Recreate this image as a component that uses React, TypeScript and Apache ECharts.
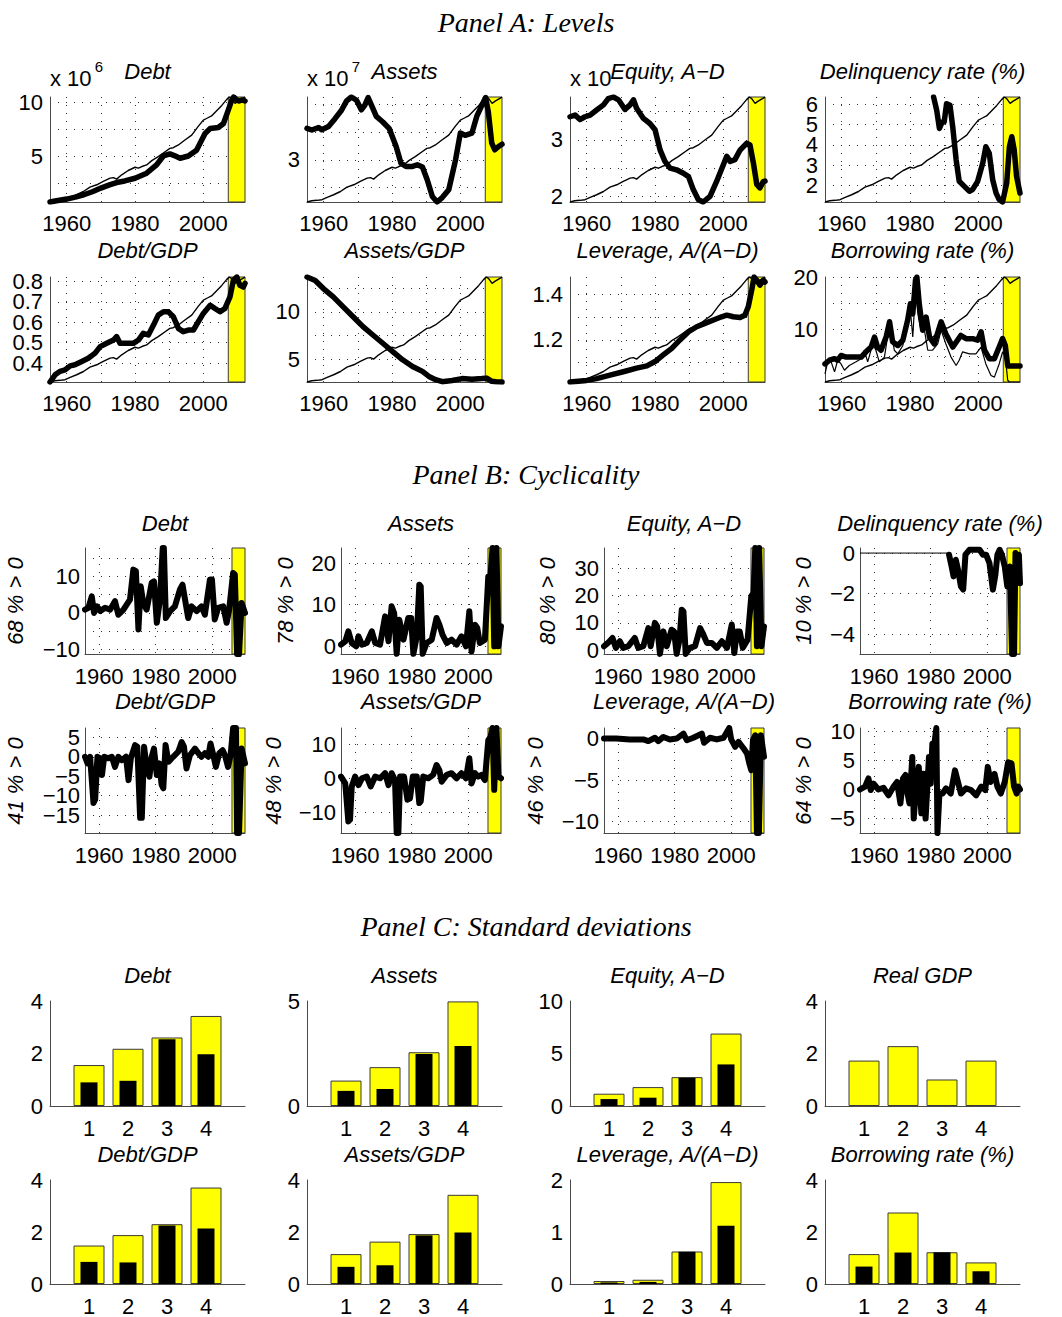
import React, { useEffect, useRef } from "react";
import * as echarts from "echarts";

type Pt = [number, number];

// ---------------- Panel A: levels, [year, value] ----------------
// real GDP, rescaled to 0..1 over the sample (overlaid on every level plot)
const gdpIndex: Pt[] = [
  [1955.1, 0.0], [1956.5, 0.012], [1958, 0.016], [1959.5, 0.022], [1961, 0.044], [1962.9, 0.069],
  [1964.9, 0.1], [1966.8, 0.142], [1968.8, 0.164], [1970.7, 0.196], [1972.7, 0.227], [1973.7, 0.232],
  [1974.6, 0.218], [1976.1, 0.259], [1978, 0.3], [1980, 0.331], [1981, 0.322], [1982, 0.338],
  [1983.4, 0.353], [1984.9, 0.394], [1986.8, 0.432], [1988.8, 0.479], [1990.2, 0.511], [1991.2, 0.517],
  [1992.7, 0.543], [1994.6, 0.59], [1996.6, 0.637], [1998.5, 0.72], [2000, 0.78], [2001.2, 0.8],
  [2002.4, 0.82], [2003.9, 0.87], [2005.4, 0.92], [2006.8, 0.975], [2007.6, 1.0], [2008.3, 0.985],
  [2009.3, 0.94], [2010.2, 0.96], [2011.2, 0.98], [2012.2, 0.998],
];

const debtLevel: Pt[] = [
  [1955.1, 0.8], [1957, 0.92], [1960, 1.07], [1962.5, 1.25], [1965, 1.47], [1967.5, 1.75], [1970, 2.09],
  [1972.5, 2.38], [1974.6, 2.6], [1977, 2.75], [1980, 3.0], [1983.4, 3.47], [1986.3, 4.23], [1988.3, 5.06],
  [1990.2, 5.25], [1991.5, 5.1], [1993.2, 4.85], [1995.6, 5.06], [1998, 5.6], [2000.5, 7.15], [2002, 7.6],
  [2004.4, 7.7], [2005.9, 8.07], [2007.3, 9.3], [2008.3, 10.2], [2008.9, 10.52], [2009.6, 10.3],
  [2010.5, 10.15], [2011.4, 10.25], [2012.2, 10.15],
];

const assetsLevel: Pt[] = [
  [1955.1, 3.283], [1956.5, 3.268], [1958.5, 3.29], [1959.4, 3.27], [1961.4, 3.3], [1963.3, 3.37],
  [1965.2, 3.446], [1966.7, 3.53], [1968.1, 3.565], [1969.6, 3.536], [1971, 3.45], [1972, 3.49],
  [1973, 3.56], [1974, 3.49], [1975.4, 3.39], [1977.3, 3.34], [1979.2, 3.28], [1981.2, 3.12],
  [1982.6, 2.97], [1984.1, 2.94], [1986, 2.94], [1987.4, 2.955], [1988.9, 2.935], [1990.3, 2.82],
  [1991.8, 2.67], [1993.2, 2.62], [1994.7, 2.66], [1996.6, 2.73], [1998.6, 3.0], [2000, 3.24],
  [2001.4, 3.22], [2003.4, 3.24], [2004.8, 3.39], [2006.3, 3.49], [2007.4, 3.56], [2008.2, 3.43],
  [2009.2, 3.15], [2010.1, 3.09], [2011.2, 3.12], [2012.2, 3.14],
];

const equityLevel: Pt[] = [
  [1955.1, 3.41], [1956.6, 3.44], [1958, 3.36], [1959.5, 3.41], [1961, 3.44], [1962.9, 3.53],
  [1964.9, 3.62], [1966.3, 3.73], [1967.8, 3.76], [1969.3, 3.71], [1971.2, 3.54], [1972.7, 3.62],
  [1973.7, 3.71], [1974.6, 3.56], [1976.6, 3.38], [1978.5, 3.29], [1980, 3.18], [1981.5, 2.82],
  [1982.9, 2.62], [1984.4, 2.5], [1986.3, 2.47], [1988.3, 2.41], [1989.8, 2.35], [1991.2, 2.12],
  [1992.7, 1.94], [1994.1, 1.9], [1996.1, 2.0], [1998, 2.26], [2000, 2.56], [2001, 2.71], [2002, 2.62],
  [2003.4, 2.65], [2004.9, 2.82], [2006.8, 2.94], [2007.8, 2.91], [2008.8, 2.59], [2009.8, 2.21],
  [2010.7, 2.15], [2011.7, 2.26], [2012.2, 2.27],
];

const delinquencyLevel: Pt[] = [
  [1986.9, 6.36], [1987.8, 5.71], [1988.6, 4.81], [1989.4, 5.13], [1990, 5.13], [1990.7, 6.03],
  [1991.7, 5.95], [1992.5, 4.89], [1993.5, 3.26], [1994.4, 2.2], [1995.9, 1.95], [1997.4, 1.71],
  [1998.3, 1.79], [1999.8, 2.2], [2001.3, 3.1], [2002.2, 3.91], [2003.2, 3.58], [2004.2, 2.28],
  [2005.2, 1.62], [2006.1, 1.3], [2007.1, 1.18], [2008.3, 2.11], [2009.1, 3.91], [2009.8, 4.4],
  [2010.5, 3.75], [2011.2, 2.44], [2012.2, 1.62],
];

const debtGdpLevel: Pt[] = [
  [1955.1, 0.308], [1956.6, 0.343], [1958, 0.36], [1959.5, 0.367], [1961, 0.387], [1962.4, 0.392],
  [1964.4, 0.408], [1966.3, 0.424], [1968.3, 0.449], [1969.8, 0.481], [1971.7, 0.497], [1973.7, 0.513],
  [1974.6, 0.53], [1975.6, 0.497], [1977.6, 0.497], [1979.5, 0.497], [1981, 0.513], [1982.4, 0.546],
  [1983.9, 0.538], [1985.4, 0.586], [1986.8, 0.635], [1988.3, 0.651], [1989.8, 0.651], [1991.2, 0.627],
  [1992.7, 0.57], [1994.1, 0.554], [1995.6, 0.562], [1997.1, 0.562], [1998.5, 0.602], [2000, 0.643],
  [2002, 0.683], [2003.4, 0.667], [2004.9, 0.651], [2006.3, 0.667], [2007.8, 0.724], [2008.8, 0.805],
  [2009.8, 0.821], [2010.7, 0.78], [2011.7, 0.772], [2012.2, 0.79],
];

const assetsGdpLevel: Pt[] = [
  [1955.1, 13.67], [1957.5, 13.3], [1959.9, 12.45], [1962.8, 11.57], [1965.7, 10.52], [1968.6, 9.48],
  [1971.5, 8.43], [1974.4, 7.55], [1977.3, 6.68], [1980.2, 5.8], [1983.1, 4.93], [1986, 4.23],
  [1988.9, 3.71], [1990.8, 3.18], [1992.8, 2.83], [1994.7, 2.62], [1997.6, 2.75], [2000.5, 2.95],
  [2003.4, 2.88], [2006.3, 2.95], [2007.7, 3.0], [2009.2, 2.66], [2010.5, 2.62], [2012.2, 2.59],
];

const leverageLevel: Pt[] = [
  [1955.1, 1.015], [1960, 1.022], [1962.9, 1.03], [1966.8, 1.045], [1970.7, 1.06], [1974.6, 1.076],
  [1977.6, 1.086], [1980, 1.105], [1982.4, 1.134], [1984.9, 1.163], [1987.3, 1.2], [1989.8, 1.236],
  [1992.2, 1.258], [1994.6, 1.273], [1997.1, 1.288], [1999.5, 1.302], [2001, 1.309], [2002.9, 1.302],
  [2004.9, 1.299], [2006.3, 1.309], [2007.3, 1.346], [2008.3, 1.419], [2009, 1.477], [2009.8, 1.463],
  [2010.7, 1.441], [2011.7, 1.463], [2012.2, 1.455],
];

const borrowRateLevel: Pt[] = [
  [1955.1, 3.5], [1956.4, 4.2], [1957.9, 4.5], [1958.8, 4.2], [1959.8, 5.1], [1961.3, 4.8], [1963.2, 4.8],
  [1965.7, 4.8], [1967.1, 5.8], [1968.6, 6.7], [1969.6, 8.6], [1970.5, 6.7], [1971.5, 6.1], [1973, 8.6],
  [1974, 11.5], [1974.9, 7.7], [1976.4, 7.0], [1977.9, 8.0], [1979.3, 11.8], [1980.1, 14.9], [1980.8, 13.0],
  [1981.6, 19.4], [1982, 20.0], [1982.7, 14.9], [1983.7, 9.9], [1984.7, 12.4], [1985.7, 8.6], [1987.1, 7.3],
  [1989.1, 11.5], [1990.5, 9.2], [1992.5, 6.7], [1993.9, 8.0], [1994.9, 8.9], [1996.4, 8.3], [1998.3, 8.3],
  [1999.8, 8.0], [2000.8, 9.6], [2001.8, 6.1], [2003.2, 4.5], [2004.7, 4.5], [2006.1, 6.7], [2007.1, 8.3],
  [2007.9, 7.0], [2008.6, 3.1], [2009.6, 3.1], [2012.2, 3.1],
];

const shortRateLevel: Pt[] = [
  [1955.1, 1.6], [1955.9, 3.9], [1956.9, 3.9], [1957.9, 2.0], [1958.8, 4.2], [1959.8, 3.5], [1960.8, 2.3],
  [1962.2, 3.2], [1964.2, 3.9], [1965.7, 4.5], [1966.6, 6.1], [1967.6, 3.9], [1969.1, 7.3], [1970, 6.1],
  [1971, 3.9], [1972.5, 4.8], [1974, 11.1], [1975.4, 6.1], [1976.4, 5.4], [1977.9, 7.0], [1979.3, 11.5],
  [1980.1, 13.7], [1980.8, 8.6], [1981.6, 17.5], [1982.3, 13.0], [1983, 10.5], [1984.3, 9.6], [1985.2, 6.1],
  [1986.6, 6.1], [1988.1, 7.3], [1989.1, 9.9], [1990.5, 7.3], [1992, 4.8], [1993.5, 3.2], [1994.4, 4.2],
  [1995.4, 5.8], [1997.4, 5.4], [1999.3, 5.4], [2000.8, 6.7], [2002.2, 3.5], [2003.7, 1.3], [2004.7, 1.0],
  [2006.1, 3.5], [2007.1, 5.8], [2007.9, 4.8], [2008.6, 0.4], [2009.1, 0.07], [2012.2, 0.07],
];

// ---------------- Panel B: cyclical components, [year, value] ----------------
const debtCycle: Pt[] = [
  [1955, 0.9], [1956.2, 1.4], [1957.4, 4.5], [1958.2, 0], [1959.2, 1.8], [1960.4, 0.5], [1962.1, 1.4],
  [1963.9, 0.9], [1965.6, 3.2], [1966.8, -0.5], [1968.6, 0.9], [1970.9, 3.6], [1972.1, 11.8], [1973, 11.4],
  [1973.9, -4.5], [1974.7, 7.3], [1975.6, 2.7], [1976.8, 0.9], [1978.6, 8.2], [1979.4, 8.6], [1980.4, -2.7],
  [1981.5, 3.6], [1982.5, 17.7], [1982.9, 17.7], [1983.6, -1.4], [1985.1, 0.5], [1986.8, 1.8], [1988.6, 6.4],
  [1989.5, 7.7], [1990.4, 3.6], [1991.5, -1.4], [1992.7, 1.8], [1994.5, 0.5], [1996.2, 1.8], [1997.4, -0.5],
  [1999.2, 9.1], [1999.9, 9.1], [2000.9, -1.8], [2002.1, 1.4], [2003.9, 1.8], [2005.1, -2.7], [2006, 0.9],
  [2007.4, 10.9], [2008, 10.5], [2008.8, -11.2], [2009.5, -11.2], [2010.4, 2.7], [2011.6, 0],
];

const assetsCycle: Pt[] = [
  [1955, 0.4], [1956.5, 1.2], [1957.6, 3.6], [1958.8, 0.8], [1960.4, 0], [1961.2, 2.4], [1962.4, 0.4],
  [1964.1, 0.8], [1965.9, 3.6], [1967.1, 0.8], [1968.8, 0.4], [1970.6, 7.2], [1971.8, 1.2], [1972.9, 9.6],
  [1973.8, 8.0], [1974.7, -1.8], [1975.6, 6.4], [1977.1, 1.6], [1978.8, 6.8], [1979.8, 6.8], [1980.6, -1.8],
  [1981.8, 2.4], [1982.7, 14.8], [1983.2, 14.4], [1983.9, -1.8], [1985.3, 0.8], [1987.1, 1.6], [1988.8, 6.8],
  [1989.8, 5.2], [1990.9, 2.8], [1992.4, 0.8], [1994.1, 1.6], [1995.9, 0.4], [1997.6, 2.4], [1999.2, 0],
  [2000.4, 8.4], [2001.2, -1.2], [2002.4, 5.2], [2003.2, 4.4], [2004.1, 0.8], [2005.9, 1.6], [2007.1, 16.8],
  [2007.9, 17.2], [2008.6, 23.6], [2009.2, 0], [2010, 23.6], [2010.7, 0], [2011.6, 4.8],
];

const equityCycle: Pt[] = [
  [1955, 1.5], [1956.4, 2.7], [1958, 4.5], [1959.2, 0.9], [1960.6, 3.3], [1961.8, 0.9], [1963.6, 1.5],
  [1965.9, 4.5], [1967.1, 0.9], [1968.9, 1.5], [1970.7, 8.1], [1971.5, 1.5], [1973, 10], [1973.8, 8.7],
  [1974.8, -1.3], [1976, 6.9], [1977.2, 1.5], [1978.9, 7.5], [1979.8, 6.9], [1980.7, -1.3], [1981.7, 3.9],
  [1982.5, 14.8], [1983.1, 14.2], [1983.9, -1.3], [1985.4, 0.9], [1987.2, 1.5], [1989, 8.1], [1989.9, 6.3],
  [1991.4, 2.7], [1993.1, 2.7], [1994.9, 0.9], [1996.7, 3.3], [1998.5, 0.9], [2000.2, 9.4], [2001.1, -1],
  [2002, 6.9], [2003, 6.9], [2004.1, 0.9], [2005.8, 3.9], [2007.1, 19.7], [2007.9, 20.9], [2008.5, 37.3],
  [2009.1, 1.5], [2009.9, 37.3], [2010.7, 1.5], [2011.6, 8.7],
];

const delinquencyCycle: Pt[] = [
  [1986.5, -0.08], [1987.4, -0.66], [1988.1, -1.15], [1988.9, -0.33], [1989.8, -0.9], [1990.7, -1.64],
  [1991.5, -1.8], [1992.3, -0.08], [1993.7, 0.16], [1995.5, 0.16], [1997.3, 0.16], [1998.5, -0.08],
  [1999.6, -0.08], [2000.8, -0.49], [2002, -1.8], [2002.9, -1.07], [2003.6, -0.08], [2004.4, 0.16],
  [2005.2, -0.08], [2006.2, -0.66], [2007.1, -1.64], [2008, -0.66], [2008.8, -4.97], [2009.5, -4.97],
  [2010, 0], [2010.7, -0.9], [2011.2, -0.08], [2011.6, -1.48],
];

const debtGdpCycle: Pt[] = [
  [1955, 0], [1955.9, -1.7], [1956.8, 0], [1958, -11.9], [1958.6, -11], [1959.4, 0], [1960.4, -0.4],
  [1961, -4.7], [1961.8, 0], [1963.3, -0.4], [1964.5, 0], [1965.6, -2.6], [1966.8, 0], [1968, -0.9],
  [1969.5, 0], [1970.4, -6], [1971.2, -0.4], [1972.7, 3], [1973.5, 2.6], [1974.5, -15.7], [1975.1, -15.7],
  [1975.9, 2.6], [1976.8, -2.6], [1977.8, -5.1], [1978.6, 0], [1979.4, 2.1], [1980.4, -4.7], [1981.3, -1.7],
  [1982.1, -7.2], [1982.7, -8.1], [1983.5, 3], [1984.5, -1.3], [1986.2, 0], [1988, 1.3], [1989.2, 3.8],
  [1990, 2.6], [1990.9, -3], [1992.1, 0.4], [1993.9, 2.1], [1995.1, 0.9], [1996.2, 0], [1997.4, 0.9],
  [1998.6, 0], [1999.4, 3.4], [2000.4, 0.4], [2001.3, -2.6], [2002.5, 0.9], [2003.7, 1.7], [2004.5, 0.4],
  [2005.6, -2.6], [2006.5, 0.4], [2007.4, 7.4], [2008.4, 7.4], [2008.8, -19.6], [2009.5, -19.6],
  [2010.4, 2.1], [2011.6, -1.7],
];

const assetsGdpCycle: Pt[] = [
  [1955, 0.5], [1956.5, -1.5], [1957.6, -12.7], [1958.2, -12.2], [1958.8, -2.4], [1960, 0.5], [1961.2, -2],
  [1962.4, 0], [1964.1, 0.5], [1965.5, -2.4], [1967.1, 0.5], [1968.8, 0], [1970.6, 1.5], [1971.8, -2],
  [1972.9, 1.5], [1974.1, -0.5], [1974.7, -16.1], [1975.3, -16.1], [1975.9, 0.5], [1977.3, 0.5],
  [1978.5, -6.3], [1979.4, -5.9], [1980.4, 0.5], [1981.8, 0.5], [1982.7, -7.3], [1983.2, -6.8], [1984.1, 0.5],
  [1985.9, 0], [1987.6, 1], [1988.8, 3.9], [1989.8, 2.4], [1990.6, -1], [1992.4, 1], [1994.1, 1.5],
  [1995.9, 0], [1997.6, 1.5], [1999.2, 0], [2000.4, 5.9], [2001.2, -1.5], [2002.4, 1.5], [2003.5, 0.5],
  [2004.7, 1], [2005.9, -0.5], [2007.1, 11.2], [2007.9, 12.2], [2008.6, 14.8], [2009.2, -3.4], [2010, 14.8],
  [2010.7, 0.5], [2011.6, 0],
];

const leverageCycle: Pt[] = [
  [1955, 0], [1959.4, 0], [1964.1, -0.1], [1968.9, -0.1], [1970.7, -0.3], [1973, 0.1], [1974.2, -0.3],
  [1976, 0.2], [1978.3, -0.1], [1980.7, 0], [1983.1, 0.6], [1984.3, -0.2], [1986.6, 0.1], [1989.6, 0.6],
  [1990.4, -0.5], [1992.5, 0.1], [1994.9, -0.1], [1997.3, 0.1], [1999.3, 1.28], [2000, -0.1], [2001.4, -1],
  [2002.6, -0.4], [2004.4, -1.2], [2005.6, -1.8], [2006.4, -3], [2007.1, -3.8], [2007.7, -0.2], [2008.5, 0.4],
  [2009.1, -11.4], [2009.8, -11.4], [2010.5, 0.4], [2011.6, -2.2],
];

const borrowRateCycle: Pt[] = [
  [1955, 0], [1956.8, 0.5], [1958, 1.9], [1958.8, -0.1], [1959.8, 1], [1961.5, 0], [1963.3, 0.3],
  [1965.1, -1], [1966.9, 0.5], [1968.1, 1.3], [1969.3, -2.4], [1970.2, 1.9], [1971.1, 2.5], [1971.7, -0.4],
  [1972.5, -2.4], [1973.5, 5.6], [1974, -5], [1974.6, -1.3], [1975.8, 3.9], [1976.7, -4.1], [1977.4, 2.7],
  [1978.2, -5], [1979.4, 5.6], [1980, 1], [1980.6, 7.9], [1981.4, 8.2], [1982, 10.6], [1982.4, -7.5],
  [1983.1, -0.7], [1984.2, -0.7], [1985.4, 0.2], [1987.1, -0.7], [1988.6, 3.3], [1989.5, 1.6], [1990.7, -0.7],
  [1992.5, 0.2], [1994.3, -0.1], [1996.1, -1], [1997.9, 0.5], [1999.3, -0.1], [2000.2, 3.9], [2001.2, 1.3],
  [2002.6, 2.7], [2003.6, 0.5], [2004.8, -0.7], [2006.2, 1.3], [2007.4, 4.7], [2008.6, 4.5], [2009.5, 0.5],
  [2010.4, -0.7], [2011, 0.5], [2011.6, 0],
];

// share of quarters with a positive cyclical component (%)
const positiveShare = [68, 78, 80, 10, 41, 48, 46, 64];

// ---------------- Panel C: standard deviations by sub-period ----------------
const periods = [1, 2, 3, 4];
const debtSdOuter = [1.56, 2.18, 2.61, 3.43];
const debtSdInner = [0.9, 0.96, 2.54, 1.97];
const assetsSdOuter = [1.21, 1.85, 2.56, 4.98];
const assetsSdInner = [0.72, 0.81, 2.48, 2.86];
const equitySdOuter = [1.17, 1.8, 2.75, 6.9];
const equitySdInner = [0.66, 0.79, 2.69, 3.96];
const gdpSdOuter = [1.73, 2.28, 1.01, 1.73];
const debtGdpSdOuter = [1.48, 1.88, 2.3, 3.71];
const debtGdpSdInner = [0.85, 0.83, 2.25, 2.13];
const assetsGdpSdOuter = [1.15, 1.63, 1.92, 3.43];
const assetsGdpSdInner = [0.66, 0.72, 1.87, 1.98];
const leverageSdOuter = [0.057, 0.082, 0.625, 1.96];
const leverageSdInner = [0.03, 0.04, 0.62, 1.12];
const borrowSdOuter = [1.15, 2.75, 1.22, 0.83];
const borrowSdInner = [0.67, 1.21, 1.22, 0.49];

// ---------------- styling / layout ----------------
const SANS = '"Liberation Sans", Arial, Helvetica, sans-serif';
const SERIF = '"Liberation Serif", "Times New Roman", serif';
const YELLOW = "#ffff00";
const EDGE = "#3a3a3a";

const A_X: [number, number] = [1955.1, 2012.2];
const B_X: [number, number] = [1955.0, 2011.6];
const A_SHADE = 2007.3;
const B_SHADE = 2007.0;

const colA = [50, 307, 570, 825];
const colB = [85, 341, 604, 860];
const rowA = [97, 277];
const rowB = [548, 728];
const rowC = [1001, 1180];
const titleYA = [71, 250];
const titleYB = [523, 701];
const titleYC = [975, 1154];
const shareX = [[15, 285, 547, 803], [15, 273, 535, 803]];

const minus = (v: number | string) => String(v).replace("-", "\u2212");

const dottedGrid = { show: true, lineStyle: { color: "#333", width: 1, type: [1, 7] } };
const axisLine = { show: true, onZero: false, lineStyle: { color: "#4a4a4a", width: 1 } };
const xLabel = (margin: number, customValues: number[]) => ({
  fontFamily: SANS,
  fontSize: 22,
  color: "#000",
  margin,
  showMinLabel: true,
  showMaxLabel: true,
  formatter: (v: number) => minus(v),
  customValues,
});

interface LevelCfg {
  title: string;
  main: Pt[];
  thin?: Pt[];
  min: number;
  max: number;
  grid: number[];
  labels: number[];
  power?: string;
}

const levelPlots: LevelCfg[] = [
  { title: "Debt", main: debtLevel, min: 0.8, max: 10.52, grid: [2.5, 5, 7.5, 10], labels: [5, 10], power: "6" },
  { title: "Assets", main: assetsLevel, min: 2.62, max: 3.565, grid: [2.75, 3, 3.25, 3.5], labels: [3], power: "7" },
  { title: "Equity, A\u2212D", main: equityLevel, min: 1.9, max: 3.76, grid: [2, 2.5, 3, 3.5], labels: [2, 3], power: "" },
  { title: "Delinquency rate (%)", main: delinquencyLevel, min: 1.18, max: 6.36, grid: [2, 3, 4, 5, 6], labels: [2, 3, 4, 5, 6] },
  { title: "Debt/GDP", main: debtGdpLevel, min: 0.308, max: 0.821, grid: [0.4, 0.5, 0.6, 0.7, 0.8], labels: [0.4, 0.5, 0.6, 0.7, 0.8] },
  { title: "Assets/GDP", main: assetsGdpLevel, min: 2.59, max: 13.67, grid: [5, 7.5, 10, 12.5], labels: [5, 10] },
  { title: "Leverage, A/(A\u2212D)", main: leverageLevel, min: 1.015, max: 1.477, grid: [1.1, 1.2, 1.3, 1.4], labels: [1.2, 1.4] },
  { title: "Borrowing rate (%)", main: borrowRateLevel, thin: shortRateLevel, min: 0.07, max: 20, grid: [5, 10, 15, 20], labels: [10, 20] },
];

interface CycleCfg { title: string; data: Pt[]; min: number; max: number; grid: number[]; labels: number[] }
const cyclePlots: CycleCfg[] = [
  { title: "Debt", data: debtCycle, min: -11.2, max: 17.7, grid: [-10, -5, 0, 5, 10, 15], labels: [-10, 0, 10] },
  { title: "Assets", data: assetsCycle, min: -1.84, max: 23.6, grid: [0, 10, 20], labels: [0, 10, 20] },
  { title: "Equity, A\u2212D", data: equityCycle, min: -1.34, max: 37.3, grid: [0, 10, 20, 30], labels: [0, 10, 20, 30] },
  { title: "Delinquency rate (%)", data: delinquencyCycle, min: -4.97, max: 0.25, grid: [-4, -2, 0], labels: [-4, -2, 0] },
  { title: "Debt/GDP", data: debtGdpCycle, min: -19.6, max: 7.4, grid: [-15, -10, -5, 0, 5], labels: [-15, -10, -5, 0, 5] },
  { title: "Assets/GDP", data: assetsGdpCycle, min: -16.1, max: 14.8, grid: [-10, 0, 10], labels: [-10, 0, 10] },
  { title: "Leverage, A/(A\u2212D)", data: leverageCycle, min: -11.4, max: 1.28, grid: [-10, -5, 0], labels: [-10, -5, 0] },
  { title: "Borrowing rate (%)", data: borrowRateCycle, min: -7.5, max: 10.6, grid: [-5, 0, 5, 10], labels: [-5, 0, 5, 10] },
];

interface SdCfg { title: string; outer: number[]; inner?: number[]; max: number; labels: number[] }
const sdPlots: SdCfg[] = [
  { title: "Debt", outer: debtSdOuter, inner: debtSdInner, max: 4, labels: [0, 2, 4] },
  { title: "Assets", outer: assetsSdOuter, inner: assetsSdInner, max: 5, labels: [0, 5] },
  { title: "Equity, A\u2212D", outer: equitySdOuter, inner: equitySdInner, max: 10, labels: [0, 5, 10] },
  { title: "Real GDP", outer: gdpSdOuter, max: 4, labels: [0, 2, 4] },
  { title: "Debt/GDP", outer: debtGdpSdOuter, inner: debtGdpSdInner, max: 4, labels: [0, 2, 4] },
  { title: "Assets/GDP", outer: assetsGdpSdOuter, inner: assetsGdpSdInner, max: 4, labels: [0, 2, 4] },
  { title: "Leverage, A/(A\u2212D)", outer: leverageSdOuter, inner: leverageSdInner, max: 2, labels: [0, 1, 2] },
  { title: "Borrowing rate (%)", outer: borrowSdOuter, inner: borrowSdInner, max: 4, labels: [0, 2, 4] },
];

function text(t: string, x: number, y: number, opts: any = {}) {
  return {
    type: "text",
    x,
    y,
    rotation: opts.rotation || 0,
    z: 100,
    style: {
      text: t,
      fill: "#000",
      fontFamily: opts.fontFamily || SANS,
      fontSize: opts.fontSize || 22,
      fontStyle: opts.fontStyle || "normal",
      align: opts.align || "center",
      verticalAlign: "middle",
    },
  };
}

function shade(x0: number, x1: number, y0: number, y1: number) {
  return {
    silent: true,
    itemStyle: { color: YELLOW, borderColor: EDGE, borderWidth: 1 },
    data: [[{ xAxis: x0, yAxis: y0 }, { xAxis: x1, yAxis: y1 }]],
  };
}

// y tick labels are placed through the grid's own scale once the layout exists,
// so that tightly spaced values (e.g. 2..6) are all kept
interface YLabelSpec { gridIndex: number; x0: number; values: number[]; margin: number }

function buildOption() {
  const grid: any[] = [];
  const xAxis: any[] = [];
  const yAxis: any[] = [];
  const series: any[] = [];
  const graphic: any[] = [];
  const yLabels: YLabelSpec[] = [];

  const panelTitle = { fontFamily: SERIF, fontSize: 28, fontStyle: "italic" };
  graphic.push(text("Panel A: Levels", 526, 22, panelTitle));
  graphic.push(text("Panel B: Cyclicality", 526, 474, panelTitle));
  graphic.push(text("Panel C: Standard deviations", 526, 926, panelTitle));

  // Panel A
  levelPlots.forEach((p, i) => {
    const left = colA[i % 4];
    const r = Math.floor(i / 4);
    const top = rowA[r];
    const gi = grid.length;
    grid.push({ left, top, width: 195, height: 105 });
    xAxis.push({
      type: "value", gridIndex: gi, min: A_X[0], max: A_X[1], axisLine,
      axisTick: { show: false, customValues: [1960, 1970, 1980, 1990, 2000, 2010] },
      axisLabel: xLabel(10, [1960, 1980, 2000]),
      splitLine: dottedGrid,
    });
    yAxis.push({
      type: "value", gridIndex: gi, min: p.min, max: p.max, axisLine,
      axisTick: { show: false, customValues: p.grid },
      axisLabel: { show: false },
      splitLine: dottedGrid,
    });
    yLabels.push({ gridIndex: gi, x0: A_X[0], values: p.labels, margin: 7 });
    const xi = xAxis.length - 1;
    const yi = yAxis.length - 1;
    series.push({
      type: "line", xAxisIndex: xi, yAxisIndex: yi, data: p.main, symbol: "none", z: 3,
      lineStyle: { color: "#000", width: 5.5, join: "round", cap: "round" },
      markArea: shade(A_SHADE, A_X[1], p.min, p.max),
    });
    if (p.thin) {
      series.push({
        type: "line", xAxisIndex: xi, yAxisIndex: yi, data: p.thin, symbol: "none", z: 4,
        lineStyle: { color: "#000", width: 1.2 },
      });
    }
    const gdpScaled = gdpIndex.map(([t, g]) => [t, p.min + g * (p.max - p.min)]);
    series.push({
      type: "line", xAxisIndex: xi, yAxisIndex: yi, data: gdpScaled, symbol: "none", z: 4,
      lineStyle: { color: "#000", width: 1.4 },
    });
    graphic.push(text(p.title, left + 97.5, titleYA[r], { fontStyle: "italic" }));
    if (p.power !== undefined) {
      graphic.push(text("x 10", left, 78, { align: "left" }));
      if (p.power) graphic.push(text(p.power, left + 49, 66, { align: "center", fontSize: 15 }));
    }
  });

  // Panel B
  cyclePlots.forEach((p, i) => {
    const c = i % 4;
    const r = Math.floor(i / 4);
    const left = colB[c];
    const top = rowB[r];
    const gi = grid.length;
    grid.push({ left, top, width: 160, height: r === 0 ? 106 : 105 });
    xAxis.push({
      type: "value", gridIndex: gi, min: B_X[0], max: B_X[1], axisLine,
      axisTick: { show: false, customValues: [1960, 1980, 2000] },
      axisLabel: xLabel(11, [1960, 1980, 2000]),
      splitLine: dottedGrid,
    });
    yAxis.push({
      type: "value", gridIndex: gi, min: p.min, max: p.max, axisLine,
      axisTick: { show: false, customValues: p.grid },
      axisLabel: { show: false },
      splitLine: dottedGrid,
    });
    yLabels.push({ gridIndex: gi, x0: B_X[0], values: p.labels, margin: 5 });
    const xi = xAxis.length - 1;
    const yi = yAxis.length - 1;
    series.push({
      type: "line", xAxisIndex: xi, yAxisIndex: yi, data: p.data, symbol: "none", z: 3,
      lineStyle: { color: "#000", width: 6, join: "round", cap: "round" },
      markArea: shade(B_SHADE, B_X[1], p.min, p.max),
    });
    if (p.data[0][0] > B_X[0] + 1) {
      // thin zero line before the series begins
      series.push({
        type: "line", xAxisIndex: xi, yAxisIndex: yi, symbol: "none", z: 2,
        data: [[B_X[0], 0], [p.data[0][0], 0]],
        lineStyle: { color: "#000", width: 1 },
      });
    }
    graphic.push(text(p.title, left + 80, titleYB[r], { fontStyle: "italic" }));
    graphic.push(
      text(`${positiveShare[i]} % > 0`, shareX[r][c], top + 53, { fontStyle: "italic", rotation: Math.PI / 2 })
    );
  });

  // Panel C
  sdPlots.forEach((p, i) => {
    const left = colA[i % 4];
    const r = Math.floor(i / 4);
    const top = rowC[r];
    const gi = grid.length;
    grid.push({ left, top, width: 195, height: r === 0 ? 105 : 106 });
    xAxis.push({
      type: "value", gridIndex: gi, min: 0, max: 5, axisLine,
      axisTick: { show: false, customValues: periods },
      axisLabel: xLabel(11, periods),
      splitLine: { show: false },
    });
    const xiOuter = xAxis.length - 1;
    xAxis.push({ type: "value", gridIndex: gi, min: 0, max: 5, show: false });
    const xiInner = xAxis.length - 1;
    yAxis.push({
      type: "value", gridIndex: gi, min: 0, max: p.max, axisLine,
      axisTick: { show: false, customValues: p.labels },
      axisLabel: { show: false },
      splitLine: { show: false },
    });
    yLabels.push({ gridIndex: gi, x0: 0, values: p.labels, margin: 7 });
    const yi = yAxis.length - 1;
    series.push({
      type: "bar", xAxisIndex: xiOuter, yAxisIndex: yi, barWidth: 31, z: 2,
      data: periods.map((k, j) => [k, p.outer[j]]),
      itemStyle: { color: YELLOW, borderColor: EDGE, borderWidth: 1 },
    });
    if (p.inner) {
      series.push({
        type: "bar", xAxisIndex: xiInner, yAxisIndex: yi, barWidth: 17, z: 3,
        data: periods.map((k, j) => [k, p.inner![j]]),
        itemStyle: { color: "#000" },
      });
    }
    graphic.push(text(p.title, left + 97.5, titleYC[r], { fontStyle: "italic" }));
  });

  return {
    option: {
      animation: false,
      backgroundColor: "#fff",
      grid,
      xAxis,
      yAxis,
      series,
      graphic,
    },
    yLabels,
  };
}

export default function App() {
  const ref = useRef<HTMLDivElement>(null);
  useEffect(() => {
    if (!ref.current) return;
    const chart = echarts.init(ref.current, null, { renderer: "svg" });
    const { option, yLabels } = buildOption();
    chart.setOption(option as any);
    const tickTexts: any[] = [];
    yLabels.forEach((s) => {
      s.values.forEach((v) => {
        const pt = chart.convertToPixel({ gridIndex: s.gridIndex }, [s.x0, v]) as number[];
        if (pt) tickTexts.push(text(minus(v), pt[0] - s.margin, pt[1], { align: "right" }));
      });
    });
    chart.setOption({ graphic: [...option.graphic, ...tickTexts] } as any);
    return () => chart.dispose();
  }, []);
  return (
    <div
      ref={ref}
      style={{ position: "absolute", left: 0, top: 0, width: 1062, height: 1317, background: "#fff" }}
    />
  );
}
